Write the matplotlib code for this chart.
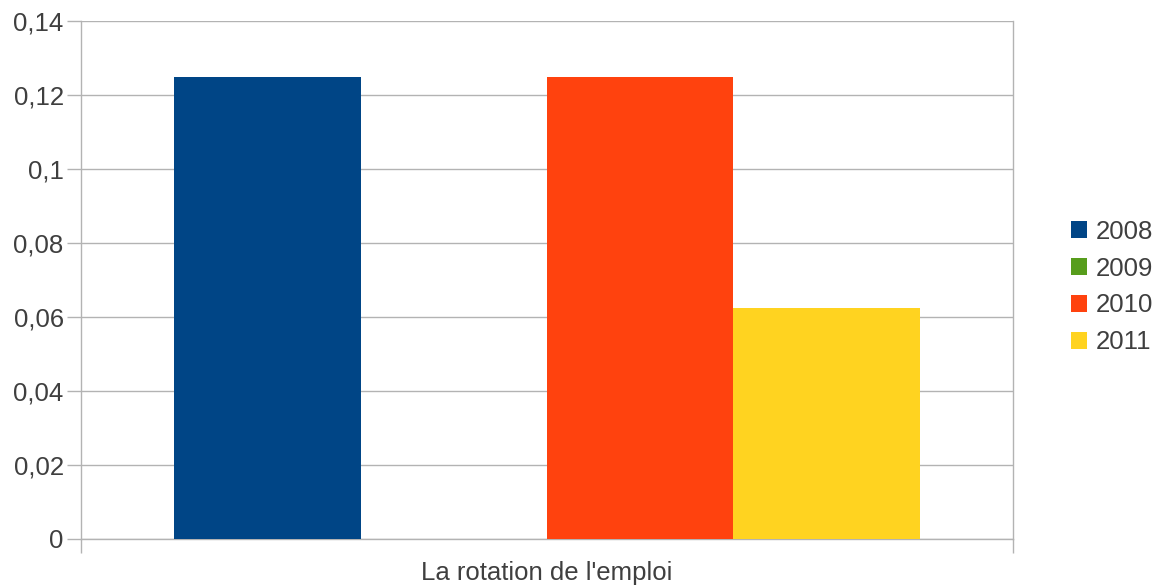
import matplotlib.pyplot as plt
from matplotlib.patches import Patch
from matplotlib.ticker import FixedLocator, FuncFormatter

plt.rcParams['font.family'] = ['Liberation Sans', 'DejaVu Sans']

# data
years = ["2008", "2009", "2010", "2011"]
values = [0.125, 0.0, 0.125, 0.0625]
colors = ["#004586", "#579d1c", "#ff420e", "#ffd320"]
category = "La rotation de l'emploi"
yticks = [0, 0.02, 0.04, 0.06, 0.08, 0.1, 0.12, 0.14]

TXT = "#3f3f3f"
GRID = "#b3b3b3"
FS = 18.5

fig = plt.figure(figsize=(11.54, 5.85), dpi=100)
ax = fig.add_axes([81 / 1154, 1 - 539 / 585, (1013 - 81) / 1154, (539 - 21) / 585])

bw = 0.2
for i, (yr, v, c) in enumerate(zip(years, values, colors)):
    ax.bar(-0.4 + bw * (i + 0.5), v, width=bw, color=c, zorder=3, linewidth=0)

ax.set_xlim(-0.5, 0.5)
ax.set_ylim(0, 0.14)

ax.yaxis.set_major_locator(FixedLocator(yticks))
ax.yaxis.set_major_formatter(FuncFormatter(lambda v, p: ("%g" % v).replace(".", ",")))
ax.grid(axis="y", color=GRID, linewidth=1, zorder=0)
ax.tick_params(axis="y", length=10, width=1, color=GRID, labelsize=FS, labelcolor=TXT, pad=2.5)

# category boundaries as ticks, label centred between them
ax.set_xticks([-0.5, 0.5])
ax.set_xticklabels(["", ""])
ax.set_xticks([0], minor=True)
ax.set_xticklabels([category], minor=True)
ax.tick_params(axis="x", which="major", length=10, width=1, color=GRID)
ax.tick_params(axis="x", which="minor", length=0, labelsize=FS, labelcolor=TXT, pad=16)

for side in ["left", "right", "bottom"]:
    ax.spines[side].set_color(GRID)
    ax.spines[side].set_linewidth(1)
ax.spines["top"].set_visible(False)

handles = [Patch(facecolor=c, edgecolor="none", label=y) for y, c in zip(years, colors)]
fig.legend(handles=handles, loc="center left", bbox_to_anchor=(1058 / 1154, 1 - 287 / 585),
           frameon=False, fontsize=FS, labelcolor=TXT, handlelength=0.62, handleheight=0.62,
           handletextpad=0.35, labelspacing=0.5, borderpad=0)

fig.savefig("out.png", dpi=100, facecolor="white")
